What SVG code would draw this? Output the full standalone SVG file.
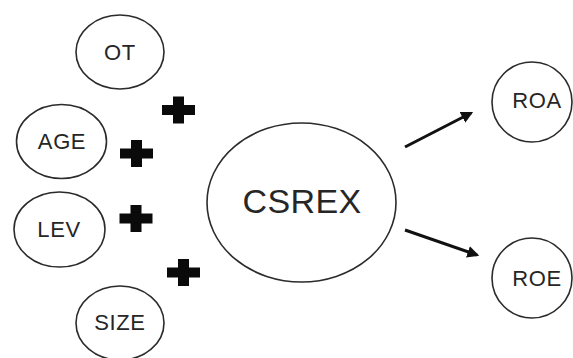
<svg xmlns="http://www.w3.org/2000/svg" xmlns:xlink="http://www.w3.org/1999/xlink" width="573" height="358" viewBox="0 0 573 358">
  <style>
    .node ellipse { fill: #ffffff; stroke: #2b2b2b; stroke-width: 1.6; }
    .node text { font-family: "Liberation Sans", Arial, sans-serif; font-size: 22px; letter-spacing: 0.6px; fill: #262626; text-anchor: middle; }
    .big text { font-size: 34px; letter-spacing: 0.4px; }
    .plus { fill: #0a0a0a; }
    .conn line { stroke: #111111; stroke-width: 3; marker-end: url(#head); }
  </style>
  <defs>
    <marker id="head" viewBox="0 0 10 10" refX="8" refY="5" markerWidth="4" markerHeight="4" orient="auto" markerUnits="strokeWidth">
      <path d="M0,0 L10,5 L0,10 z" fill="#111111"/>
    </marker>
    <!-- bold plus sign centred on the origin -->
    <path id="plusSign" d="M-5.5,-13.5 H5.5 V-5 H16.5 V5 H5.5 V13.5 H-5.5 V5 H-16.5 V-5 H-5.5 z"/>
  </defs>
  <rect width="573" height="358" fill="#ffffff"/>

  <g id="node-OT" class="node">
    <ellipse cx="120" cy="52" rx="44" ry="37"/>
    <text x="120" y="60">OT</text>
  </g>
  <g id="node-AGE" class="node">
    <ellipse cx="61.5" cy="141.5" rx="45" ry="37"/>
    <text x="62" y="149">AGE</text>
  </g>
  <g id="node-LEV" class="node">
    <ellipse cx="59.5" cy="229.5" rx="45.5" ry="37.5"/>
    <text x="59" y="237">LEV</text>
  </g>
  <g id="node-SIZE" class="node">
    <ellipse cx="120" cy="323" rx="44" ry="37"/>
    <text x="120" y="330">SIZE</text>
  </g>
  <g id="node-CSREX" class="node big">
    <ellipse cx="301.5" cy="202.5" rx="94.5" ry="79.5"/>
    <text x="302" y="213">CSREX</text>
  </g>
  <g id="node-ROA" class="node">
    <ellipse cx="532" cy="102" rx="40" ry="40"/>
    <text x="537" y="108">ROA</text>
  </g>
  <g id="node-ROE" class="node">
    <ellipse cx="532" cy="278" rx="40" ry="40"/>
    <text x="537" y="286">ROE</text>
  </g>

  <g id="plus-signs" class="plus">
    <use xlink:href="#plusSign" x="178.5" y="110"/>
    <use xlink:href="#plusSign" x="136.5" y="153.5"/>
    <use xlink:href="#plusSign" x="136" y="218.5"/>
    <use xlink:href="#plusSign" x="183.5" y="272.5"/>
  </g>

  <g id="connectors" class="conn">
    <line x1="405" y1="147" x2="471" y2="113"/>
    <line x1="405" y1="230" x2="477" y2="255"/>
  </g>
</svg>
